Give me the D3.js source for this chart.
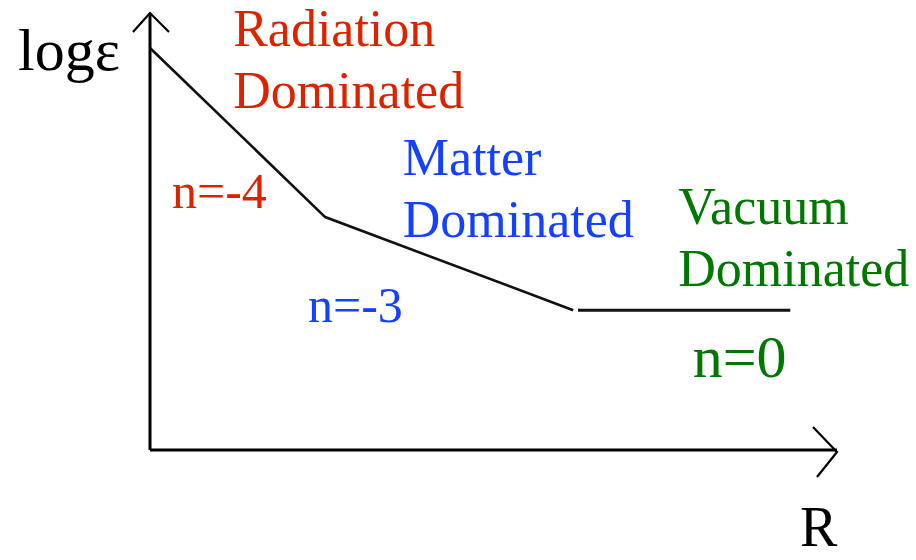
<!DOCTYPE html>
<html>
<head>
<meta charset="utf-8">
<script src="https://cdn.jsdelivr.net/npm/d3@7"></script>
<style>
  body { margin: 0; background: #fff; }
</style>
</head>
<body>
<div id="chart"></div>
<script>
// sketch data (arbitrary units, 0-100 on both axes)
const slopedR = [0, 25.5, 61.6];
const slopedLogE = [92.0, 53.3, 32.0];
const vacuumR = [62.3, 93.2];
const vacuumLogE = [32.0, 32.0];

const eras = ["Radiation", "Matter", "Vacuum"];
const eraColors = ["#dc2300", "#1440ff", "#007800"];
const eraSlopes = ["n=-4", "n=-3", "n=0"];

const W = 916, H = 560;
const origin = {x: 150, y: 450};
const serif = "'Liberation Serif', 'Times New Roman', 'DejaVu Serif', serif";

const svg = d3.select("#chart").append("svg")
  .attr("width", W)
  .attr("height", H)
  .attr("font-family", serif);

const x = d3.scaleLinear().domain([0, 100]).range([origin.x, 837]);
const y = d3.scaleLinear().domain([0, 100]).range([origin.y, 13]);

// axes with open arrowheads
const axes = svg.append("g")
  .attr("stroke", "#000")
  .attr("fill", "none");

axes.append("line")
  .attr("x1", x(0)).attr("y1", y(0))
  .attr("x2", x(0)).attr("y2", y(100))
  .attr("stroke-width", 3);

axes.append("line")
  .attr("x1", x(0)).attr("y1", y(0))
  .attr("x2", x(100)).attr("y2", y(0))
  .attr("stroke-width", 3);

axes.append("path")
  .attr("stroke-width", 2.2)
  .attr("d", `M${x(0) - 17},${y(100) + 19} L${x(0)},${y(100)} L${x(0) + 19},${y(100) + 19}`);

axes.append("path")
  .attr("stroke-width", 2.2)
  .attr("d", `M${x(100) - 24},${y(0) - 23} L${x(100)},${y(0) + 2} L${x(100) - 20},${y(0) + 27}`);

// curve
const line = d3.line()
  .x(d => x(d[0]))
  .y(d => y(d[1]));

svg.append("path")
  .datum(d3.zip(slopedR, slopedLogE))
  .attr("fill", "none")
  .attr("stroke", "#111")
  .attr("stroke-width", 2.6)
  .attr("d", line);

svg.append("path")
  .datum(d3.zip(vacuumR, vacuumLogE))
  .attr("fill", "none")
  .attr("stroke", "#111")
  .attr("stroke-width", 3)
  .attr("d", line);

// era labels
const labelPos = [
  {x: 12.1, y: 92.4, nx: 3.2, ny: 55.4, nsize: 50},
  {x: 36.8, y: 62.9, nx: 23.0, ny: 29.3, nsize: 50},
  {x: 76.9, y: 51.7, nx: 79.0, ny: 16.7, nsize: 60}
];

eras.forEach((era, i) => {
  const p = labelPos[i];
  const t = svg.append("text")
    .attr("fill", eraColors[i])
    .attr("font-family", serif)
    .attr("font-size", 52)
    .attr("x", x(p.x))
    .attr("y", y(p.y));
  t.append("tspan").attr("x", x(p.x)).text(era);
  t.append("tspan").attr("x", x(p.x)).attr("dy", 62).text("Dominated");

  svg.append("text")
    .attr("fill", eraColors[i])
    .attr("font-family", serif)
    .attr("font-size", p.nsize)
    .attr("x", x(p.nx))
    .attr("y", y(p.ny))
    .text(eraSlopes[i]);
});

// axis titles
svg.append("text")
  .attr("font-family", serif)
  .attr("font-size", 60)
  .attr("x", 18)
  .attr("y", 70)
  .text("logε");

svg.append("text")
  .attr("font-family", serif)
  .attr("font-size", 56)
  .attr("x", 800)
  .attr("y", 546)
  .text("R");
</script>
</body>
</html>
